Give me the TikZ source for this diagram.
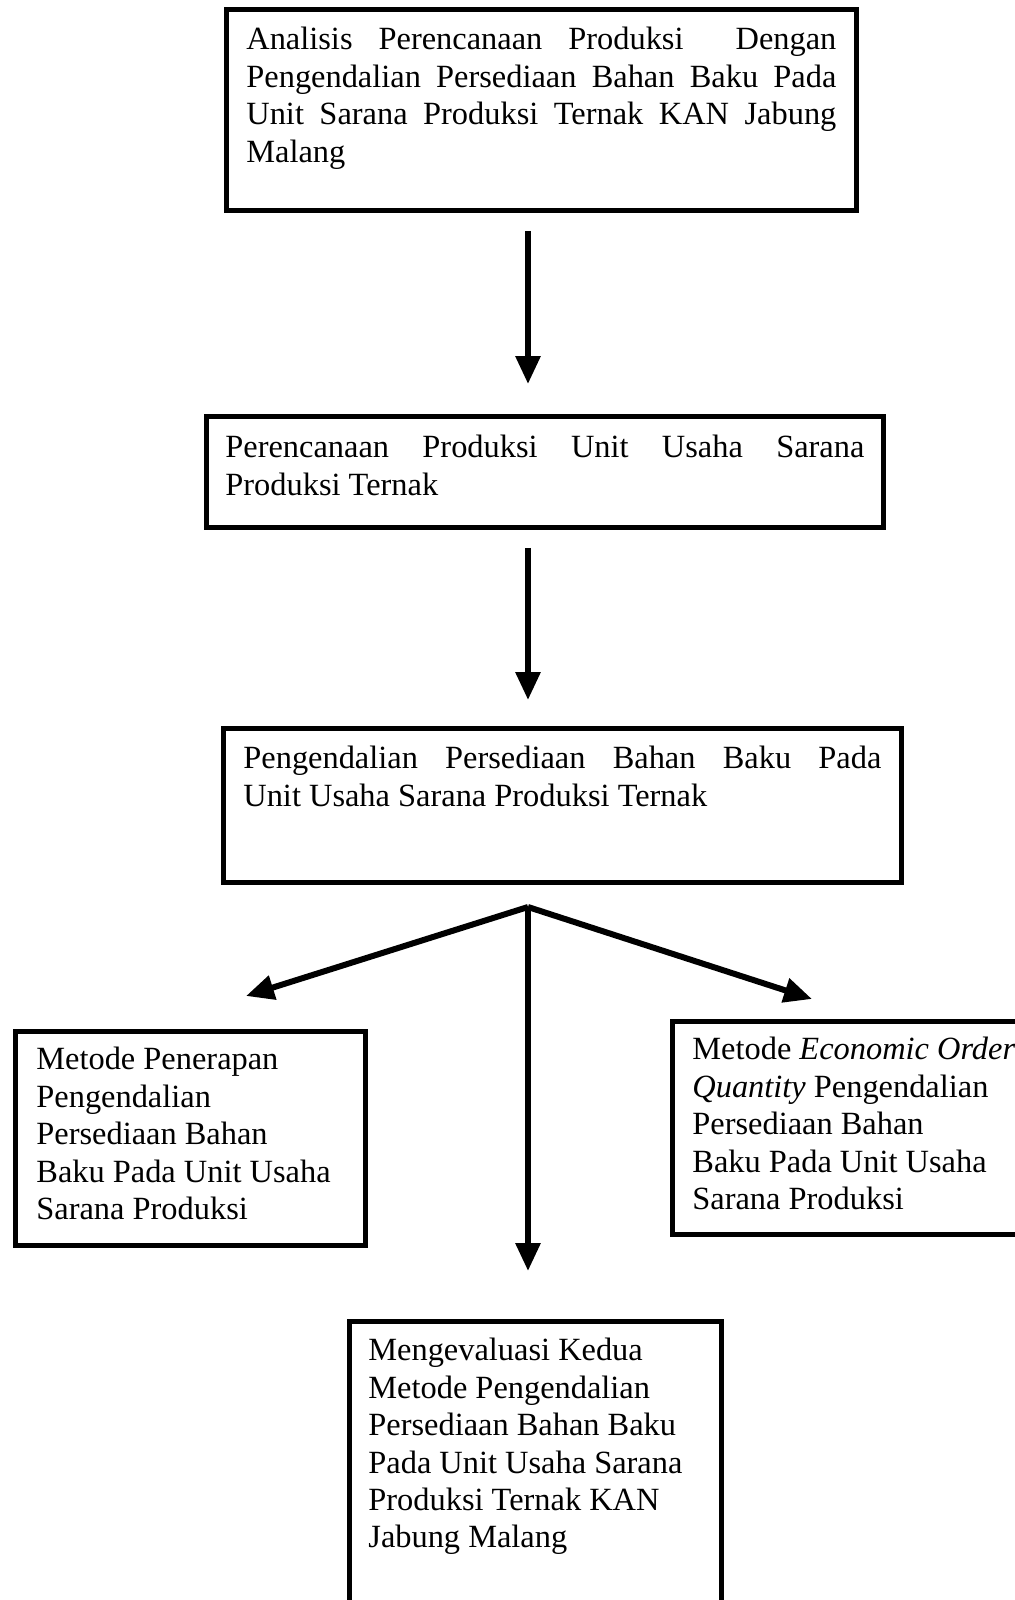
\documentclass[tikz,border=0pt]{standalone}
\usepackage{fontspec}
\setmainfont{Liberation Serif}
\usetikzlibrary{arrows.meta}
% text block of a box: width, height, contents
\newcommand{\boxtext}[3]{\begin{minipage}[t][#2][t]{#1}#3\end{minipage}}
\tikzset{
  every picture/.style={line join=miter},
  flowbox/.style={draw, line width=2.4pt, anchor=north west,
    inner xsep=10pt, inner ysep=9pt,
    font=\fontsize{16.2}{18.7}\selectfont},
  flowarrow/.style={-{Triangle[width=12pt,length=14pt]}, line width=3pt},
}

\begin{document}
\begin{tikzpicture}[x=0.5pt,y=-0.5pt]
    \useasboundingbox (0,0) rectangle (1015,1600);

    % Main column
    \node[flowbox] (analisis) at (224,7)
        {\boxtext{295pt}{82.5pt}{Analisis Perencanaan Produksi\ \ Dengan\linebreak
         Pengendalian Persediaan Bahan Baku Pada\linebreak
         Unit Sarana Produksi Ternak KAN Jabung\linebreak
         Malang}};
    \node[flowbox, inner xsep=9.5pt, inner ysep=9.5pt] (perencanaan) at (204,414)
        {\boxtext{319.5pt}{36.5pt}{Perencanaan Produksi Unit Usaha Sarana\linebreak
         Produksi Ternak}};
    \node[flowbox] (pengendalian) at (221,726)
        {\boxtext{319pt}{59pt}{Pengendalian Persediaan Bahan Baku Pada\linebreak
         Unit Usaha Sarana Produksi Ternak}};

    % Two methods and the evaluation
    \node[flowbox, inner xsep=10.5pt, inner ysep=8pt] (penerapan) at (13,1029)
        {\boxtext{154pt}{91pt}{\raggedright Metode Penerapan\\ Pengendalian\\
         Persediaan Bahan\\ Baku Pada Unit Usaha\\ Sarana Produksi}};
    \node[flowbox, inner ysep=8pt] (eoq) at (670,1019)
        {\boxtext{165pt}{90.5pt}{\raggedright Metode \textit{Economic Order}\\
         \textit{Quantity} Pengendalian\\ Persediaan Bahan\\ Baku Pada Unit Usaha\\
         Sarana Produksi}};
    \node[flowbox, inner xsep=9.5pt, inner ysep=8.5pt] (evaluasi) at (347,1319)
        {\boxtext{167pt}{143pt}{\raggedright Mengevaluasi Kedua\\ Metode Pengendalian\\
         Persediaan Bahan Baku\\ Pada Unit Usaha Sarana\\ Produksi Ternak KAN\\
         Jabung Malang}};

    % Arrows
    \coordinate (split) at (528,907);
    \coordinate (lefttip) at (246,996);
    \coordinate (righttip) at (812,999);
    \draw[flowarrow, shorten <=9pt, shorten >=15pt]
        (analisis.south -| split) -- (perencanaan.north -| split);
    \draw[flowarrow, shorten <=9pt, shorten >=13pt]
        (perencanaan.south -| split) -- (pengendalian.north -| split);
    \draw[flowarrow] (split) -- (lefttip);
    \draw[flowarrow] (split) -- (righttip);
    \draw[flowarrow, shorten >=24pt] (split) -- (evaluasi.north -| split);
\end{tikzpicture}
\end{document}
